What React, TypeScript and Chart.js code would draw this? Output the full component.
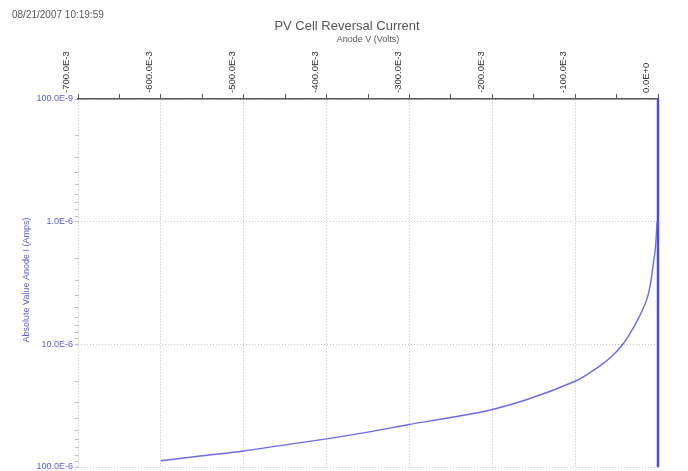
import React, { useEffect, useRef } from "react";
import { Chart, registerables } from "chart.js";

Chart.register(...registerables);

const timestamp = "08/21/2007 10:19:59";
const chartTitle = "PV Cell Reversal Current";
const xAxisTitle = "Anode V (Volts)";
const yAxisTitle = "Absolute Value Anode I (Amps)";

const xTickValues = [-0.7, -0.6, -0.5, -0.4, -0.3, -0.2, -0.1, 0];
const xTickLabels = ["-700.0E-3", "-600.0E-3", "-500.0E-3", "-400.0E-3", "-300.0E-3", "-200.0E-3", "-100.0E-3", "0.0E+0"];
const yTickValues = [1e-7, 1e-6, 1e-5, 1e-4];
const yTickLabels = ["100.0E-9", "1.0E-6", "10.0E-6", "100.0E-6"];

const voltage = [-0.6, -0.55, -0.5, -0.45, -0.4, -0.35, -0.3, -0.25, -0.2, -0.15, -0.1, -0.085, -0.07, -0.055, -0.042, -0.033, -0.025, -0.019, -0.013, -0.009, -0.006, -0.003, -0.0012];
const current = [89e-6, 81e-6, 74e-6, 66e-6, 59e-6, 52e-6, 45e-6, 39.5e-6, 34e-6, 27e-6, 20e-6, 17.5e-6, 15e-6, 12.4e-6, 9.9e-6, 8.0e-6, 6.4e-6, 5.3e-6, 4.2e-6, 3.2e-6, 2.3e-6, 1.6e-6, 1.0e-6];

const zeroV = [0, 0];
const zeroI = [1e-4, 1e-7];

const FONT = "'Liberation Sans', Arial, sans-serif";
const BLUE_TEXT = "#5a5ae0";

const near = (a: number, b: number) => Math.abs(a - b) <= Math.abs(b) * 1e-6 + 1e-9;

export default function App() {
  const ref = useRef<HTMLCanvasElement | null>(null);

  useEffect(() => {
    document.body.style.margin = "0";
    document.body.style.background = "#fff";
    const canvas = ref.current;
    if (!canvas) return;

    const textPlugin = {
      id: "texts",
      afterDraw(chart: any) {
        const ctx = chart.ctx;
        ctx.save();
        ctx.fillStyle = "#555";
        ctx.textBaseline = "middle";
        ctx.textAlign = "left";
        ctx.font = `10px ${FONT}`;
        ctx.fillText(timestamp, 12, 15);
        ctx.textAlign = "center";
        ctx.font = `13px ${FONT}`;
        ctx.fillText(chartTitle, 347, 26);
        ctx.font = `9px ${FONT}`;
        ctx.fillText(xAxisTitle, 368, 40);
        ctx.translate(27, 280);
        ctx.rotate(-Math.PI / 2);
        ctx.fillStyle = BLUE_TEXT;
        ctx.font = `9px ${FONT}`;
        ctx.fillText(yAxisTitle, 0, 0);
        ctx.restore();
      },
    };

    const chart = new Chart(canvas, {
      type: "line",
      data: {
        datasets: [
          {
            data: voltage.map((v, i) => ({ x: v, y: current[i] })),
            borderColor: "#6b6be6",
            borderWidth: 1.4,
            pointRadius: 0,
            tension: 0.35,
            fill: false,
          },
          {
            data: zeroV.map((v, i) => ({ x: v, y: zeroI[i] })),
            borderColor: "#4a4ae6",
            borderWidth: 2.5,
            pointRadius: 0,
            fill: false,
            clip: 4,
          },
        ],
      },
      options: {
        responsive: false,
        animation: false,
        layout: { padding: { top: 0, left: 0, right: 30, bottom: 4 } },
        plugins: { legend: { display: false }, title: { display: false }, tooltip: { enabled: false } },
        scales: {
          x: {
            type: "linear",
            position: "top",
            min: -0.7,
            max: 0,
            afterBuildTicks(scale: any) {
              const t: any[] = [];
              xTickValues.forEach((v, i) => {
                t.push({ value: v });
                if (i < xTickValues.length - 1) t.push({ value: (v + xTickValues[i + 1]) / 2 });
              });
              scale.ticks = t;
            },
            afterFit(scale: any) {
              scale.height = 99;
            },
            ticks: {
              autoSkip: false,
              maxRotation: 90,
              minRotation: 90,
              padding: 1,
              color: "#333",
              font: { family: FONT, size: 9.5 },
              callback(value: any) {
                const idx = xTickValues.findIndex((v) => Math.abs(v - value) < 1e-6);
                return idx >= 0 ? xTickLabels[idx] : "";
              },
            },
            grid: {
              drawOnChartArea: true,
              color(ctx: any) {
                const v = ctx.tick ? ctx.tick.value : NaN;
                return xTickValues.some((x) => Math.abs(x - v) < 1e-6) ? "#b8b8b8" : "rgba(0,0,0,0)";
              },
              tickColor: "#555",
              tickLength: 5,
              lineWidth: 1,
            },
            border: { display: true, color: "#555", width: 1.5, dash: [1, 2] },
          },
          y: {
            type: "logarithmic",
            reverse: true,
            min: 1e-7,
            max: 1e-4,
            afterBuildTicks(scale: any) {
              const t: any[] = [];
              yTickValues.forEach((v, i) => {
                t.push({ value: v });
                if (i < yTickValues.length - 1) {
                  for (let k = 2; k <= 9; k++) t.push({ value: v * k });
                }
              });
              scale.ticks = t;
            },
            afterFit(scale: any) {
              scale.width = 78;
              scale.paddingTop = 0;
              scale.paddingBottom = 0;
            },
            ticks: {
              autoSkip: false,
              padding: 2,
              color: BLUE_TEXT,
              font: { family: FONT, size: 9 },
              callback(value: any) {
                const idx = yTickValues.findIndex((v) => near(Number(value), v));
                return idx >= 0 ? yTickLabels[idx] : "";
              },
            },
            grid: {
              drawOnChartArea: true,
              color(ctx: any) {
                const v = ctx.tick ? ctx.tick.value : NaN;
                return yTickValues.some((y) => near(v, y)) ? "#c4c4c4" : "rgba(0,0,0,0)";
              },
              tickColor: "#bdbdbd",
              tickLength: 3,
              lineWidth: 1,
            },
            border: { display: false, dash: [1, 2] },
          },
        },
      },
      plugins: [textPlugin],
    } as any);

    return () => chart.destroy();
  }, []);

  return <canvas ref={ref} width={688} height={471} style={{ display: "block" }} />;
}
